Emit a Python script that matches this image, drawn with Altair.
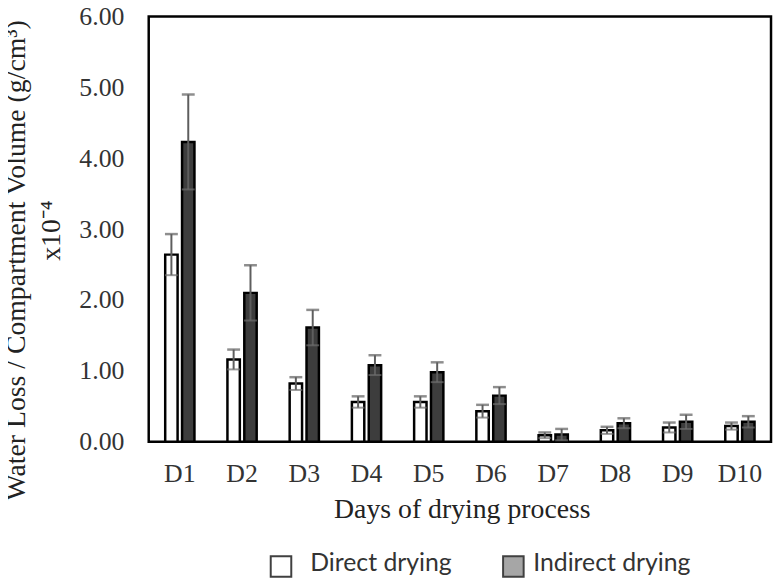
import altair as alt
import pandas as pd

days = ["D1", "D2", "D3", "D4", "D5", "D6", "D7", "D8", "D9", "D10"]
series = ["Direct drying", "Indirect drying"]
direct_mean = [2.64, 1.16, 0.82, 0.56, 0.56, 0.43, 0.09, 0.16, 0.20, 0.22]
direct_err = [0.29, 0.14, 0.09, 0.08, 0.08, 0.09, 0.04, 0.05, 0.07, 0.05]
indirect_mean = [4.23, 2.10, 1.61, 1.08, 0.98, 0.65, 0.10, 0.26, 0.28, 0.28]
indirect_err = [0.67, 0.39, 0.25, 0.14, 0.14, 0.12, 0.08, 0.07, 0.10, 0.08]
y_ticks = [0, 1, 2, 3, 4, 5, 6]

rows = []
for i, d in enumerate(days):
    rows.append(dict(day=d, series=series[0], mean=direct_mean[i], err=direct_err[i]))
    rows.append(dict(day=d, series=series[1], mean=indirect_mean[i], err=indirect_err[i]))
df = pd.DataFrame(rows)
df["lo"] = df["mean"] - df["err"]
df["hi"] = df["mean"] + df["err"]

SERIF = "Liberation Serif"
SANS = "Lato"

x = alt.X(
    "day:N", sort=days, title="Days of drying process",
    scale=alt.Scale(paddingInner=0.53, paddingOuter=0.265),
    axis=alt.Axis(labelAngle=0, labelPadding=19, labelFontSize=26, labelFont=SERIF,
                  labelColor="#333333", titleFont=SERIF, titleFontSize=28,
                  titleFontWeight="normal", titleColor="#222222",
                  titleBaseline="alphabetic", titleY=77, titleX=316),
)
xo = alt.XOffset("series:N", sort=series,
                 scale=alt.Scale(paddingInner=0.265, paddingOuter=0))
y_scale = alt.Scale(domain=[0, 6], nice=False, zero=True)
y = alt.Y("mean:Q", scale=y_scale,
          axis=alt.Axis(values=y_ticks, format=".2f", title=None, labelPadding=25,
                        labelFontSize=26, labelFont=SERIF, labelColor="#333333"))

base = alt.Chart(df)
bars = base.mark_bar(stroke="black", strokeWidth=2.5).encode(
    x=x, xOffset=xo, y=y,
    fill=alt.Fill("series:N", scale=alt.Scale(domain=series, range=["white", "#3d3d3d"]),
                  legend=None),
)
rules = base.mark_rule(color="#5e5e5e", strokeWidth=2).encode(
    x=x, xOffset=xo, y=alt.Y("lo:Q", scale=y_scale), y2="hi:Q"
)
caps_hi = base.mark_tick(color="#5e5e5e", size=13, thickness=2.5, orient="horizontal").encode(
    x=x, xOffset=xo, y=alt.Y("hi:Q", scale=y_scale)
)
caps_lo = base.mark_tick(color="#6e6e6e", size=13, thickness=2, orient="horizontal").encode(
    x=x, xOffset=xo, y=alt.Y("lo:Q", scale=y_scale)
)

title_df = pd.DataFrame({"t1": ["Water Loss / Compartment Volume (g/cm³)"], "t2": ["x10⁻⁴"]})
ytitle1 = alt.Chart(title_df).mark_text(
    angle=270, font=SERIF, fontSize=28, color="#222222", baseline="alphabetic", align="center"
).encode(text="t1:N", x=alt.value(-125), y=alt.value(246))
ytitle2 = alt.Chart(title_df).mark_text(
    angle=270, font=SERIF, fontSize=28, color="#222222", baseline="alphabetic", align="center"
).encode(text="t2:N", x=alt.value(-90), y=alt.value(216))

leg1 = pd.DataFrame({"label": [series[0]]})
leg2 = pd.DataFrame({"label": [series[1]]})
sq1 = alt.Chart(leg1).mark_square(size=430, fill="white", stroke="#404040", strokeWidth=2, opacity=1).encode(
    x=alt.value(133.5), y=alt.value(555))
sq2 = alt.Chart(leg2).mark_square(size=430, fill="#a6a6a6", stroke="#404040", strokeWidth=2, opacity=1).encode(
    x=alt.value(368), y=alt.value(555))
tx1 = alt.Chart(leg1).mark_text(font=SANS, fontSize=25, color="#333333", align="left", baseline="alphabetic").encode(
    text="label:N", x=alt.value(163), y=alt.value(560))
tx2 = alt.Chart(leg2).mark_text(font=SANS, fontSize=25, color="#333333", align="left", baseline="alphabetic").encode(
    text="label:N", x=alt.value(388), y=alt.value(560))

chart = alt.layer(bars, rules, caps_hi, caps_lo, ytitle1, ytitle2, sq1, sq2, tx1, tx2).properties(
    width=628, height=429,
    autosize=alt.AutoSizeParams(type="none"),
    padding={"left": 142, "top": 6, "right": 2, "bottom": 142},
).configure_view(stroke="black", strokeWidth=2.5).configure_axis(
    domain=False, ticks=False, tickSize=0, grid=False
)

chart.save("out.html", embed_options={"renderer": "svg", "actions": False})
